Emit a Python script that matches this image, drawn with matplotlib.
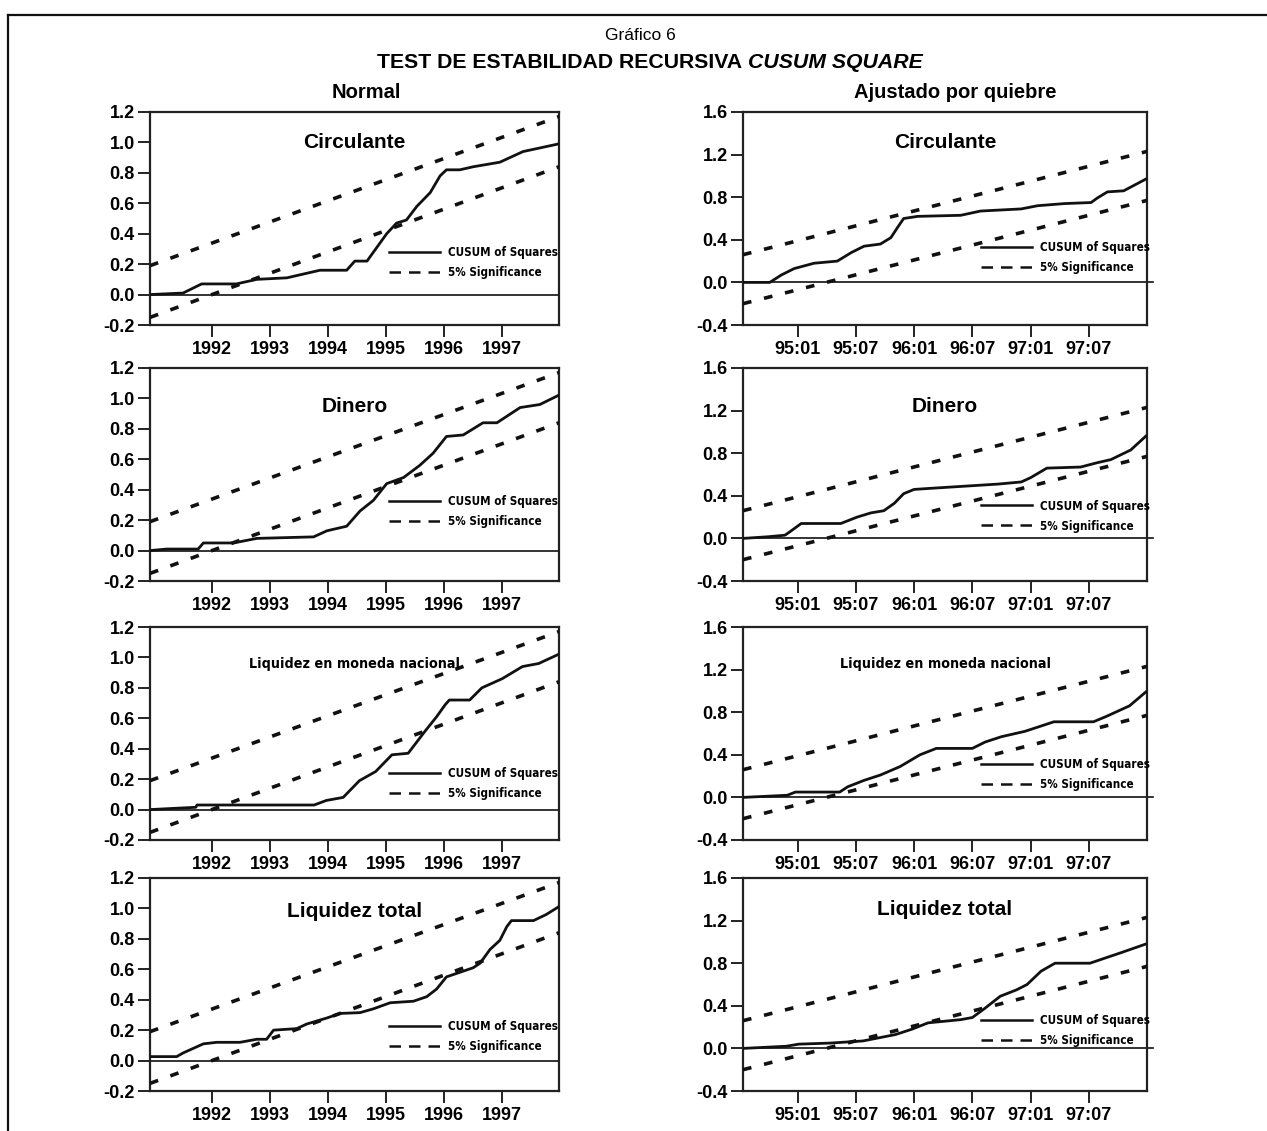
import matplotlib
matplotlib.use("Agg")
import matplotlib.pyplot as plt
from matplotlib import font_manager
from matplotlib.font_manager import FontProperties
from matplotlib.lines import Line2D

# ---- data --------------------------------------------------------------
# "Normal" column: x in decimal years
NORMAL_XLIM = (1990.93, 1997.98)
NORMAL_XTICKS = [1992, 1993, 1994, 1995, 1996, 1997]
NORMAL_YTICKS = [-0.2, 0.0, 0.2, 0.4, 0.6, 0.8, 1.0, 1.2]
NORMAL_BOUND_X = [1990.93, 1997.98]
NORMAL_UPPER = [0.19, 1.17]
NORMAL_LOWER = [-0.15, 0.84]

circ_n_x = [1990.93, 1991.50, 1991.82, 1992.42, 1992.77, 1993.29, 1993.86, 1994.32,
            1994.46, 1994.67, 1995.01, 1995.18, 1995.35, 1995.53, 1995.76, 1995.93,
            1996.04, 1996.27, 1996.50, 1996.96, 1997.36, 1997.97]
circ_n_y = [0.0, 0.01, 0.07, 0.07, 0.10, 0.11, 0.16, 0.16,
            0.22, 0.22, 0.40, 0.47, 0.49, 0.58, 0.67, 0.78,
            0.82, 0.82, 0.84, 0.87, 0.94, 0.99]

din_n_x = [1990.93, 1991.22, 1991.76, 1991.85, 1992.37, 1992.77, 1993.75, 1993.98,
           1994.32, 1994.55, 1994.78, 1995.01, 1995.30, 1995.58, 1995.81, 1996.04,
           1996.33, 1996.67, 1996.91, 1997.31, 1997.65, 1997.97]
din_n_y = [0.0, 0.01, 0.01, 0.05, 0.05, 0.08, 0.09, 0.13,
           0.16, 0.26, 0.33, 0.44, 0.48, 0.56, 0.64, 0.75,
           0.76, 0.84, 0.84, 0.94, 0.96, 1.02]

lmn_n_x = [1990.93, 1991.72, 1991.74, 1992.99, 1993.76, 1993.97, 1994.26, 1994.54,
           1994.82, 1995.10, 1995.38, 1995.66, 1995.87, 1996.02, 1996.09, 1996.44,
           1996.65, 1997.00, 1997.35, 1997.63, 1997.97]
lmn_n_y = [0.0, 0.015, 0.03, 0.03, 0.03, 0.06, 0.08, 0.19,
           0.25, 0.36, 0.37, 0.51, 0.61, 0.69, 0.72, 0.72,
           0.80, 0.86, 0.94, 0.96, 1.02]

ltot_n_x = [1990.93, 1991.39, 1991.50, 1991.85, 1992.08, 1992.48, 1992.77, 1992.94,
            1993.06, 1993.46, 1993.63, 1993.98, 1994.21, 1994.55, 1994.78, 1995.07,
            1995.47, 1995.70, 1995.87, 1996.04, 1996.27, 1996.50, 1996.62, 1996.79,
            1996.96, 1997.08, 1997.16, 1997.54, 1997.76, 1997.97]
ltot_n_y = [0.026, 0.026, 0.05, 0.11, 0.12, 0.12, 0.14, 0.14,
            0.20, 0.21, 0.24, 0.28, 0.31, 0.315, 0.34, 0.38,
            0.39, 0.42, 0.47, 0.55, 0.58, 0.61, 0.64, 0.73,
            0.79, 0.88, 0.92, 0.92, 0.96, 1.01]

# "Ajustado por quiebre" column: x in decimal years, monthly labels
QUIEBRE_XLIM = (1994.53, 1998.0)
QUIEBRE_XTICKS = [1995.0, 1995.5, 1996.0, 1996.5, 1997.0, 1997.5]
QUIEBRE_XLABELS = ["95:01", "95:07", "96:01", "96:07", "97:01", "97:07"]
QUIEBRE_YTICKS = [-0.4, 0.0, 0.4, 0.8, 1.2, 1.6]
QUIEBRE_BOUND_X = [1994.53, 1998.0]
QUIEBRE_UPPER = [0.26, 1.23]
QUIEBRE_LOWER = [-0.20, 0.77]

circ_q_x = [1994.53, 1994.76, 1994.86, 1994.97, 1995.14, 1995.34, 1995.46, 1995.57,
            1995.71, 1995.80, 1995.86, 1995.91, 1996.03, 1996.40, 1996.57, 1996.92,
            1997.06, 1997.29, 1997.52, 1997.57, 1997.66, 1997.80, 1997.99]
circ_q_y = [0.0, 0.0, 0.07, 0.13, 0.18, 0.20, 0.28, 0.34,
            0.36, 0.42, 0.52, 0.60, 0.62, 0.63, 0.67, 0.69,
            0.72, 0.74, 0.75, 0.79, 0.85, 0.86, 0.97]

din_q_x = [1994.53, 1994.74, 1994.89, 1994.93, 1995.03, 1995.37, 1995.51, 1995.63,
           1995.74, 1995.83, 1995.91, 1996.00, 1996.14, 1996.43, 1996.72, 1996.92,
           1997.00, 1997.14, 1997.43, 1997.57, 1997.69, 1997.86, 1997.99]
din_q_y = [0.0, 0.015, 0.03, 0.06, 0.14, 0.14, 0.20, 0.24,
           0.26, 0.33, 0.42, 0.46, 0.47, 0.49, 0.51, 0.53,
           0.57, 0.66, 0.67, 0.71, 0.74, 0.83, 0.96]

lmn_q_x = [1994.53, 1994.91, 1994.98, 1995.36, 1995.43, 1995.57, 1995.71, 1995.88,
           1996.05, 1996.19, 1996.50, 1996.61, 1996.75, 1996.95, 1997.09, 1997.20,
           1997.54, 1997.65, 1997.85, 1997.99]
lmn_q_y = [0.0, 0.02, 0.05, 0.05, 0.10, 0.16, 0.21, 0.29,
           0.40, 0.46, 0.46, 0.52, 0.57, 0.62, 0.67, 0.71,
           0.71, 0.76, 0.86, 0.99]

ltot_q_x = [1994.53, 1994.90, 1995.01, 1995.28, 1995.56, 1995.70, 1995.84, 1995.98,
            1996.12, 1996.40, 1996.50, 1996.60, 1996.74, 1996.88, 1996.97, 1997.09,
            1997.21, 1997.51, 1997.78, 1997.99]
ltot_q_y = [0.0, 0.02, 0.04, 0.05, 0.07, 0.10, 0.13, 0.18,
            0.24, 0.27, 0.29, 0.37, 0.49, 0.55, 0.60, 0.725,
            0.80, 0.80, 0.90, 0.98]

ROW_TITLES = ["Circulante", "Dinero", "Liquidez en moneda nacional", "Liquidez total"]
NORMAL_SERIES = [(circ_n_x, circ_n_y), (din_n_x, din_n_y), (lmn_n_x, lmn_n_y), (ltot_n_x, ltot_n_y)]
QUIEBRE_SERIES = [(circ_q_x, circ_q_y), (din_q_x, din_q_y), (lmn_q_x, lmn_q_y), (ltot_q_x, ltot_q_y)]

# ---- layout (pixels of the 1267x1131 canvas) -----------------------------
W, H = 1267, 1131
ROW_TOPS = [112, 368, 627, 878]
ROW_H = 213
COLS = [(150, 409), (743, 404)]
TITLE_Y = {0: [0.855, 0.817, 0.828, 0.845], 1: [0.855, 0.817, 0.828, 0.853]}
LEGEND_Y = {0: [0.294, 0.328, 0.266, 0.255], 1: [0.317, 0.305, 0.307, 0.282]}
LEGEND_X = {0: 0.585, 1: 0.59}


def find_narrow():
    entries = font_manager.fontManager.ttflist
    for pref in ["Liberation Sans Narrow", "Arial Narrow", "DejaVu Sans Condensed"]:
        if any(f.name == pref for f in entries):
            return pref, "normal"
    for f in entries:
        if f.name == "DejaVu Sans" and f.stretch in ("condensed", "semi-condensed", 75, 87):
            return "DejaVu Sans", "condensed"
    for f in entries:
        if "Narrow" in f.name or "Condensed" in f.name:
            return f.name, "normal"
    return None, "normal"


NARROW_NAME, NARROW_STRETCH = find_narrow()
# DejaVu condensed is still wider than the original's narrow face
NARROW_SCALE = 1.0 if (NARROW_NAME or "").startswith(("Liberation", "Arial")) else 0.76


def narrow_props(size):
    if NARROW_NAME is None:
        return FontProperties(family=["Liberation Sans"], weight="bold", size=size * 0.82)
    return FontProperties(family=[NARROW_NAME, "Liberation Sans"], weight="bold",
                          stretch=NARROW_STRETCH, size=size * NARROW_SCALE)


plt.rcParams["font.family"] = ["Liberation Sans", "DejaVu Sans"]

fig = plt.figure(figsize=(W / 100, H / 100), dpi=100)

DASH = (0, (2.4, 3.6))
INK = "#111111"


def draw_panel(ax, col, row, xs, ys):
    if col == 0:
        bx, up, lo = NORMAL_BOUND_X, NORMAL_UPPER, NORMAL_LOWER
        ax.set_xlim(*NORMAL_XLIM)
        ax.set_ylim(NORMAL_YTICKS[0], NORMAL_YTICKS[-1])
        ax.set_xticks(NORMAL_XTICKS)
        ax.set_xticklabels([str(t) for t in NORMAL_XTICKS])
        ax.set_yticks(NORMAL_YTICKS)
        ax.set_yticklabels([f"{v:.1f}" for v in NORMAL_YTICKS])
        zero_end = 1.0
    else:
        bx, up, lo = QUIEBRE_BOUND_X, QUIEBRE_UPPER, QUIEBRE_LOWER
        ax.set_xlim(*QUIEBRE_XLIM)
        ax.set_ylim(QUIEBRE_YTICKS[0], QUIEBRE_YTICKS[-1])
        ax.set_xticks(QUIEBRE_XTICKS)
        ax.set_xticklabels(QUIEBRE_XLABELS)
        ax.set_yticks(QUIEBRE_YTICKS)
        ax.set_yticklabels([f"{v:.1f}" for v in QUIEBRE_YTICKS])
        zero_end = 1.015

    ax.axhline(0.0, xmin=0, xmax=zero_end, color=INK, lw=1.2, clip_on=False, zorder=2)
    ax.plot(bx, up, color=INK, lw=2.6, linestyle=DASH, zorder=3)
    ax.plot(bx, lo, color=INK, lw=2.6, linestyle=DASH, zorder=3)
    ax.plot(xs, ys, color=INK, lw=2.0, zorder=4)

    for s in ax.spines.values():
        s.set_linewidth(1.6)
        s.set_color("#222222")
    ax.tick_params(axis="both", direction="out", length=8.5, width=1.4, color="#222222",
                   labelsize=13)
    ax.tick_params(axis="x", pad=3)
    ax.tick_params(axis="y", pad=2.5)
    for lab in ax.get_xticklabels() + ax.get_yticklabels():
        lab.set_fontweight("bold")

    title = ROW_TITLES[row]
    if title.startswith("Liquidez en"):
        ax.text(0.5, TITLE_Y[col][row], title, transform=ax.transAxes, ha="center",
                va="center", fontproperties=narrow_props(13.5), zorder=5)
    else:
        ax.text(0.5, TITLE_Y[col][row], title, transform=ax.transAxes, ha="center",
                va="center", fontsize=15, fontweight="bold", zorder=5)

    handles = [Line2D([], [], color=INK, lw=1.8),
               Line2D([], [], color=INK, lw=1.8, linestyle=(0, (4.6, 3.2)))]
    leg = ax.legend(handles, ["CUSUM of Squares", "5% Significance"],
                    loc="center left", bbox_to_anchor=(LEGEND_X[col], LEGEND_Y[col][row]),
                    frameon=False, handlelength=4.4, handletextpad=0.65, labelspacing=0.6,
                    borderpad=0, borderaxespad=0, prop=narrow_props(11))
    leg.set_zorder(6)


for row in range(4):
    for col in range(2):
        x0, w = COLS[col]
        top = ROW_TOPS[row]
        ax = fig.add_axes([x0 / W, 1 - (top + ROW_H) / H, w / W, ROW_H / H])
        xs, ys = (NORMAL_SERIES if col == 0 else QUIEBRE_SERIES)[row]
        draw_panel(ax, col, row, xs, ys)

# headings
fig.text(640 / W, 1 - 35 / H, "Gráfico 6", ha="center", va="center", fontsize=12.5)
fig.text(742 / W, 1 - 62 / H, "TEST DE ESTABILIDAD RECURSIVA", ha="right", va="center",
         fontsize=15.3, fontweight="bold")
fig.text(748 / W, 1 - 62 / H, "CUSUM SQUARE", ha="left", va="center",
         fontsize=15.3, fontweight="bold", style="italic")
fig.text(366 / W, 1 - 93 / H, "Normal", ha="center", va="center", fontsize=14.5,
         fontweight="bold")
fig.text(955 / W, 1 - 93 / H, "Ajustado por quiebre", ha="center", va="center",
         fontsize=14.5, fontweight="bold")

# outer frame (top and left edges are visible in the picture)
fig.add_artist(Line2D([8 / W, 1.0], [1 - 15 / H, 1 - 15 / H], transform=fig.transFigure,
                      color=INK, lw=1.6))
fig.add_artist(Line2D([8 / W, 8 / W], [0.0, 1 - 15 / H], transform=fig.transFigure,
                      color=INK, lw=1.6))

fig.savefig("out.png", dpi=100)
